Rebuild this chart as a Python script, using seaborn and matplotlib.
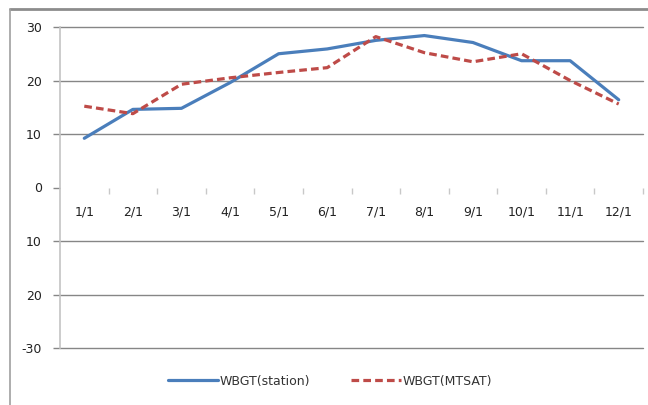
import numpy as np
import pandas as pd
import matplotlib
matplotlib.use("Agg")
import matplotlib.pyplot as plt
from matplotlib.lines import Line2D
import seaborn as sns

months = ["1/1", "2/1", "3/1", "4/1", "5/1", "6/1", "7/1", "8/1", "9/1", "10/1", "11/1", "12/1"]
station = [9.2, 14.6, 14.8, 19.6, 25.0, 25.9, 27.5, 28.4, 27.1, 23.7, 23.7, 16.4]
mtsat = [15.2, 13.8, 19.3, 20.5, 21.5, 22.4, 28.2, 25.2, 23.5, 25.0, 20.0, 15.6]
y_ticks = [30, 20, 10, 0, -10, -20, -30]
y_tick_labels = ["30", "20", "10", "0", "10", "20", "-30"]
series_names = ["WBGT(station)", "WBGT(MTSAT)"]

sns.set_theme(style="white")
plt.rcParams['font.family'] = ['DejaVu Sans']

df = pd.DataFrame({
    "x": list(range(len(months))) * 2,
    "value": station + mtsat,
    "series": [series_names[0]] * len(months) + [series_names[1]] * len(months),
})

fig = plt.figure(figsize=(6.48, 4.05), dpi=100)
W, H = 648, 405
ax = fig.add_axes([60 / W, (H - 348) / H, (643 - 60) / W, (348 - 27) / H])

palette = {series_names[0]: "#4A7EBB", series_names[1]: "#BE4B48"}
dashes = {series_names[0]: "", series_names[1]: (2.4, 1.3)}
sns.lineplot(data=df, x="x", y="value", hue="series", style="series",
             palette=palette, dashes=dashes, linewidth=2.3, ax=ax, legend=True)

ax.set_xlim(-0.5, 11.5)
ax.set_ylim(-30, 30)
ax.set_xlabel("")
ax.set_ylabel("")

# y axis
ax.set_yticks(y_ticks)
ax.set_yticklabels(y_tick_labels, fontsize=9, color="#222222")
ax.tick_params(axis="y", length=5, width=1, color="#868686", pad=8, left=True)
ax.yaxis.grid(True, color="#868686", linewidth=1)
for v, gl in zip(y_ticks, ax.yaxis.get_gridlines()):
    gl.set_clip_on(False)
    if v == 0:
        gl.set_visible(False)

# x axis at y=0
ax.spines["bottom"].set_position(("data", 0))
ax.spines["bottom"].set_visible(False)
ax.set_xticks(range(len(months)))
ax.set_xticklabels(months, fontsize=9, color="#222222")
ax.set_xticks(np.arange(0.5, len(months), 1.0), minor=True)
ax.tick_params(axis="x", which="major", length=0, pad=13, bottom=True)
ax.tick_params(axis="x", which="minor", length=4, width=1, color="#c8c8c8", bottom=True)

ax.spines["top"].set_visible(False)
ax.spines["right"].set_visible(False)
ax.spines["left"].set_color("#c4c4c4")
ax.spines["left"].set_linewidth(1.2)

# legend
handles, labels = ax.get_legend_handles_labels()
ax.get_legend().remove()
fig.legend(handles, labels, loc="center", bbox_to_anchor=(330 / W, 1 - 381 / H),
           ncol=2, frameon=False, fontsize=9, handlelength=4.0,
           columnspacing=3.2, handletextpad=0.2, labelcolor="#333333")

# outer frame
fig.add_artist(Line2D([10 / W, 1], [1 - 9 / H, 1 - 9 / H], color="#8c8c8c", linewidth=2,
                      transform=fig.transFigure))
fig.add_artist(Line2D([10 / W, 10 / W], [1 - 9 / H, 0], color="#a0a0a0", linewidth=1.2,
                      transform=fig.transFigure))

fig.savefig("out.png", dpi=100)
